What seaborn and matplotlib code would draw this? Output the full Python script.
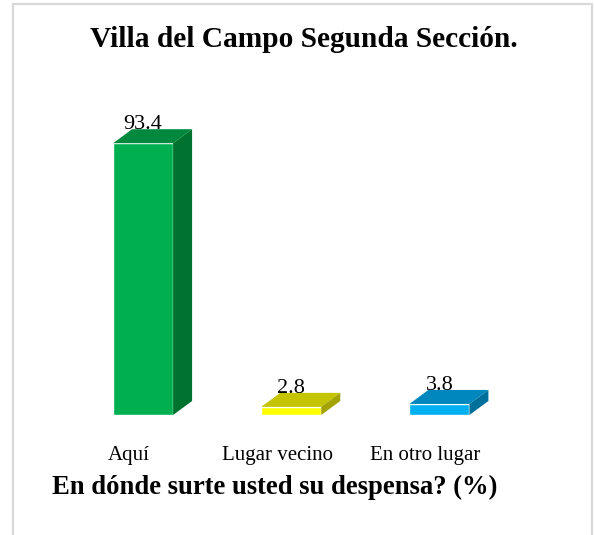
import numpy as np
import pandas as pd
import seaborn as sns
import matplotlib.pyplot as plt
from matplotlib.patches import Polygon, Rectangle
from matplotlib.transforms import ScaledTranslation

# Data
categories = ["Aquí", "Lugar vecino", "En otro lugar"]
values = [93.4, 2.8, 3.8]
value_labels = ["93.4", "2.8", "3.8"]
front_colors = ["#00B050", "#FFFF00", "#00B0F0"]
top_colors = ["#00893E", "#C4C400", "#0088BE"]
side_colors = ["#00722F", "#A3A300", "#006F9A"]

sns.set_theme(style="white")
plt.rcParams["font.family"] = ["Liberation Serif", "DejaVu Serif"]
plt.rcParams["text.color"] = "black"
plt.rcParams["xtick.color"] = "black"

W, H = 594, 535
fig = plt.figure(figsize=(W / 100, H / 100), dpi=100)
fig.patch.set_facecolor("white")

# plot area in pixels (left, right, top, bottom measured from the top-left corner)
ax_left, ax_right = 69, 513.5
ax_top, ax_bottom = 124, 415
ax = fig.add_axes([ax_left / W, 1 - ax_bottom / H,
                   (ax_right - ax_left) / W, (ax_bottom - ax_top) / H])

df = pd.DataFrame({"lugar": categories, "pct": values})
sns.barplot(data=df, x="lugar", y="pct", hue="lugar", palette=front_colors,
            width=0.405, saturation=1, legend=False, ax=ax, zorder=3)

ax.set_xlim(-0.5, 2.5)
ax.set_ylim(0, 100)
for s in ax.spines.values():
    s.set_visible(False)
ax.set_xlabel("")
ax.set_ylabel("")
ax.set_yticks([])
ax.set_facecolor("white")

# 3-D depth of each bar: horizontal and vertical offsets in pixels, converted to data units
px_x = (ax_right - ax_left) / 3.0
px_y = (ax_bottom - ax_top) / 100.0
dx = 19 / px_x
dy = 14 / px_y

bars = sorted(ax.patches, key=lambda p: p.get_x())
for i, bar in enumerate(bars):
    x0, w, h = bar.get_x(), bar.get_width(), bar.get_height()
    top = Polygon([(x0, h), (x0 + w, h), (x0 + w + dx, h + dy), (x0 + dx, h + dy)],
                  closed=True, facecolor=top_colors[i], edgecolor="none",
                  clip_on=False, zorder=3)
    side = Polygon([(x0 + w, 0), (x0 + w + dx, dy), (x0 + w + dx, h + dy), (x0 + w, h)],
                   closed=True, facecolor=side_colors[i], edgecolor="none",
                   clip_on=False, zorder=3)
    ax.add_patch(top)
    ax.add_patch(side)
    ax.text(x0 + w / 2, h + dy, value_labels[i], ha="center", va="baseline",
            fontsize=16, color="black", zorder=5, clip_on=False)

# category labels, shifted a little to the left of each bar
ax.set_xticks(range(len(categories)))
ax.set_xticklabels(categories, fontsize=15, color="black")
ax.tick_params(axis="x", length=0, pad=22)
shift = ScaledTranslation(-14 / 100, 0, fig.dpi_scale_trans)
for lab in ax.get_xticklabels():
    lab.set_transform(lab.get_transform() + shift)

fig.text(304 / W, 1 - 47 / H, "Villa del Campo Segunda Sección.",
         ha="center", va="baseline", fontsize=21.2, fontweight="bold", color="black")
fig.text(275 / W, 1 - 494 / H, "En dónde surte usted su despensa? (%)",
         ha="center", va="baseline", fontsize=19.2, fontweight="bold", color="black")

# light frame around the chart
fig.patches.append(Rectangle((13 / W, -0.05), (592 - 13) / W, 1.05 - 4 / H,
                             transform=fig.transFigure, fill=False,
                             edgecolor="#D9D9D9", linewidth=1.6))

fig.savefig("out.png", dpi=100, facecolor="white")
